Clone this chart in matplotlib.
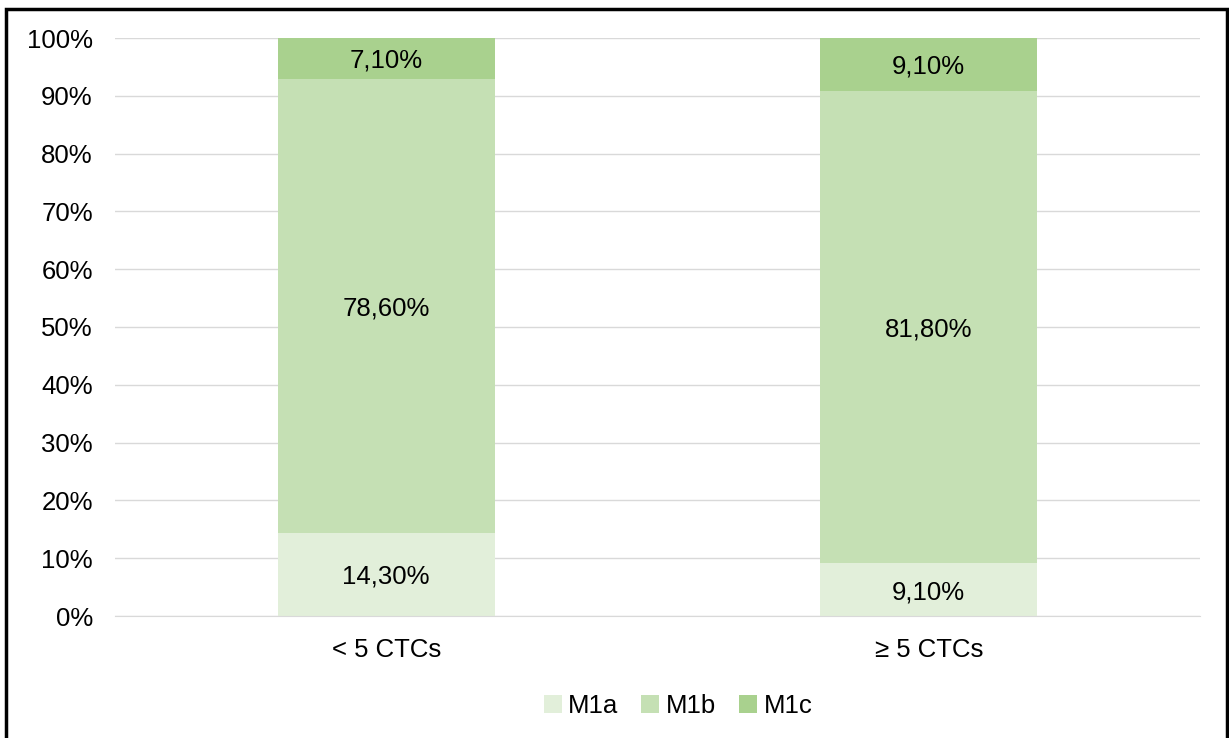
import matplotlib.pyplot as plt
from matplotlib.patches import Rectangle

plt.rcParams['font.family'] = ['Liberation Sans', 'DejaVu Sans']

categories = ['< 5 CTCs', '≥ 5 CTCs']
series = ['M1a', 'M1b', 'M1c']
m1a = [14.3, 9.1]
m1b = [78.6, 81.8]
m1c = [7.1, 9.1]
colors = ['#E2EFDA', '#C5E0B4', '#A9D18E']

fs = 18.5

fig = plt.figure(figsize=(12.29, 7.38), dpi=100)
ax = fig.add_axes([115 / 1229, 1 - 616 / 738, 1085 / 1229, 578 / 738])

x = range(len(categories))
bottom = [0, 0]
for name, vals, col in zip(series, [m1a, m1b, m1c], colors):
    bars = ax.bar(x, vals, width=0.4, bottom=bottom, color=col, label=name, zorder=2)
    for b, v, bt in zip(bars, vals, bottom):
        lbl = f'{v:.2f}%'.replace('.', ',')
        ax.text(b.get_x() + b.get_width() / 2, bt + v / 2 - 0.4, lbl,
                ha='center', va='center', fontsize=fs, color='#000000', zorder=3)
    bottom = [a + b for a, b in zip(bottom, vals)]

ax.set_xlim(-0.5, 1.5)
ax.set_ylim(0, 100)
ax.set_yticks(range(0, 101, 10))
ax.set_yticklabels([f'{t}%' for t in range(0, 101, 10)], fontsize=fs)
ax.set_xticks(list(x))
ax.set_xticklabels(categories, fontsize=fs)
ax.tick_params(length=0)
ax.tick_params(axis='y', pad=16)
ax.tick_params(axis='x', pad=16)
ax.yaxis.grid(True, color='#D9D9D9', linewidth=1, zorder=0)
for s in ['top', 'right', 'left']:
    ax.spines[s].set_visible(False)
ax.spines['bottom'].set_color('#D9D9D9')

fig.legend(loc='center', bbox_to_anchor=(678 / 1229, 1 - 706 / 738), ncol=3,
           frameon=False, fontsize=fs, handlelength=0.7, handleheight=0.7,
           handletextpad=0.25, columnspacing=0.9)

fig.patches.append(Rectangle((6 / 1229, -0.05), 1221 / 1229, 1.05 - 9 / 738,
                             transform=fig.transFigure, fill=False,
                             edgecolor='#000000', linewidth=2.5))

fig.savefig('out.png', dpi=100)
